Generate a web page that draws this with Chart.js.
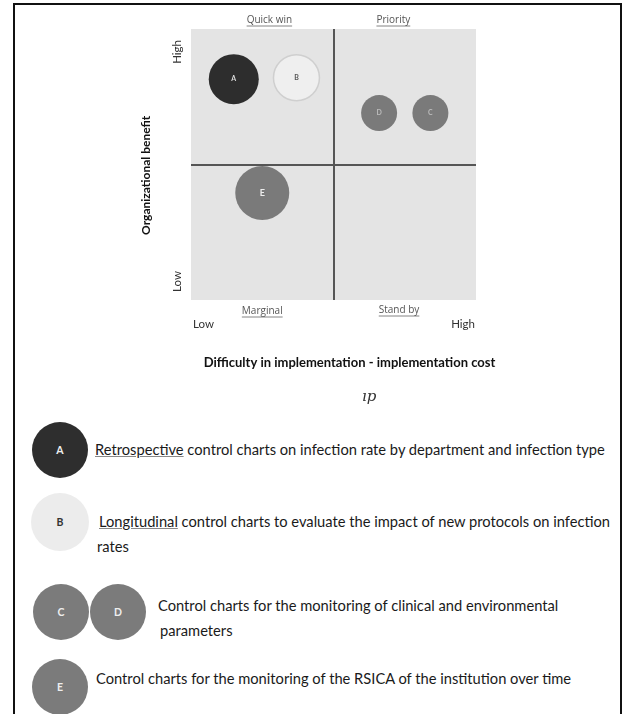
<!DOCTYPE html>
<html>
<head>
<meta charset="utf-8">
<script src="https://cdn.jsdelivr.net/npm/chart.js@4.4.1/dist/chart.umd.min.js"></script>
<style>
  html, body { margin: 0; padding: 0; background: #fff; }
  body { width: 624px; height: 714px; position: relative; overflow: hidden; font-family: Lato, 'Open Sans', sans-serif; }
  #frame { position: absolute; left: 13px; top: 3px; width: 605px; height: 760px; border: 2px solid #111; border-bottom: none; }
  #chartBox { position: absolute; left: 0; top: 0; width: 624px; height: 420px; }
  .dot { position: absolute; border-radius: 50%; display: flex; align-items: center; justify-content: center; font: bold 10.5px Lato, sans-serif; }
  .txt { position: absolute; font-size: 14.7px; color: #1a1a1a; white-space: nowrap; line-height: 16px; }
  .txt u { text-decoration-color: #888; }
  #glyph { position: absolute; left: 362px; top: 387px; font: italic 15px 'DejaVu Serif', serif; color: #333; }
</style>
</head>
<body>
<div id="frame"></div>
<div id="chartBox"><canvas id="matrix"></canvas></div>
<div id="glyph">ıp</div>

<div class="dot" style="left:32px;top:422px;width:56px;height:56px;background:#2e2e2e;color:#eee;">A</div>
<div class="txt" style="left:95px;top:441px;"><u>Retrospective</u> control charts on infection rate by department and infection type</div>

<div class="dot" style="left:31px;top:493px;width:58px;height:58px;background:#ececec;color:#333;">B</div>
<div class="txt" style="left:99px;top:513px;"><u>Longitudinal</u> control charts to evaluate the impact of new protocols on infection</div>
<div class="txt" style="left:97px;top:538px;">rates</div>

<div class="dot" style="left:33px;top:584px;width:56px;height:56px;background:#7b7b7b;color:#eee;">C</div>
<div class="dot" style="left:90px;top:584px;width:56px;height:56px;background:#7b7b7b;color:#eee;">D</div>
<div class="txt" style="left:158px;top:597px;">Control charts for the monitoring of clinical and environmental</div>
<div class="txt" style="left:160px;top:622px;">parameters</div>

<div class="dot" style="left:32px;top:659px;width:56px;height:56px;background:#7b7b7b;color:#eee;">E</div>
<div class="txt" style="left:96px;top:670px;">Control charts for the monitoring of the RSICA of the institution over time</div>

<script>
// bubble data: difficulty (x), benefit (y), bubble radius
const bubbleNames = ['A', 'B', 'C', 'D', 'E'];
const difficulty = [1.5, 3.7, 8.4, 6.6, 2.5];
const benefit = [8.15, 8.2, 6.9, 6.9, 3.95];
const bubbleRadius = [25, 23, 18, 18, 27];

const quadrantNames = ['Quick win', 'Priority', 'Marginal', 'Stand by'];
const axisEnds = ['Low', 'High'];
const xTitle = 'Difficulty in implementation - implementation cost';
const yTitle = 'Organizational benefit';

const fillColors = ['#2d2d2d', '#efefef', '#7a7a7a', '#7a7a7a', '#7a7a7a'];
const letterColors = ['#ddd', '#555', '#bbb', '#bbb', '#eee'];

// Middle lines only (value 5)
function midLine(ctx) {
    return ctx.tick && ctx.tick.value === 5 ? '#555' : 'rgba(0,0,0,0)';
}

function underlined(ctx, text, x, y) {
    ctx.fillText(text, x, y);
    const w = ctx.measureText(text).width;
    ctx.beginPath();
    ctx.moveTo(x - w / 2, y + 6);
    ctx.lineTo(x + w / 2, y + 6);
    ctx.lineWidth = 0.8;
    ctx.strokeStyle = '#666';
    ctx.stroke();
}

const matrixPlugin = {
    id: 'matrixDecor',
    beforeDraw(chart) {
        const { ctx, chartArea: a } = chart;
        ctx.save();
        ctx.fillStyle = '#e4e4e4';
        ctx.fillRect(a.left, a.top, a.right - a.left, a.bottom - a.top);
        ctx.restore();
    },
    afterDatasetsDraw(chart) {
        const { ctx, chartArea: a } = chart;
        const xs = chart.scales.x, ys = chart.scales.y;
        ctx.save();

        // letters inside bubbles
        const meta = chart.getDatasetMeta(0);
        meta.data.forEach((pt, i) => {
            ctx.font = (i === 4 ? 'bold 9px' : 'bold 7px') + ' Lato, sans-serif';
            ctx.fillStyle = letterColors[i];
            ctx.textAlign = 'center';
            ctx.textBaseline = 'middle';
            ctx.fillText(bubbleNames[i], pt.x, pt.y);
        });

        // quadrant names
        ctx.font = '10px "Open Sans", sans-serif';
        ctx.fillStyle = '#555';
        ctx.textAlign = 'center';
        ctx.textBaseline = 'middle';
        underlined(ctx, quadrantNames[0], xs.getPixelForValue(2.75), a.top - 9);
        underlined(ctx, quadrantNames[1], xs.getPixelForValue(7.1), a.top - 9);
        underlined(ctx, quadrantNames[2], xs.getPixelForValue(2.5), a.bottom + 11);
        underlined(ctx, quadrantNames[3], xs.getPixelForValue(7.3), a.bottom + 10);

        // axis ends
        ctx.font = '11.5px Lato, sans-serif';
        ctx.fillStyle = '#333';
        ctx.textAlign = 'left';
        ctx.fillText(axisEnds[0], a.left + 2, a.bottom + 24);
        ctx.textAlign = 'right';
        ctx.fillText(axisEnds[1], a.right - 1, a.bottom + 24);

        ctx.save();
        ctx.translate(a.left - 14, a.top);
        ctx.rotate(-Math.PI / 2);
        ctx.textAlign = 'right';
        ctx.fillText(axisEnds[1], -11, 0);
        ctx.textAlign = 'left';
        ctx.fillText(axisEnds[0], -(a.bottom - a.top) + 8, 0);
        ctx.restore();

        // axis titles
        ctx.font = 'bold 13px Lato, sans-serif';
        ctx.fillStyle = '#111';
        ctx.textAlign = 'center';
        ctx.fillText(xTitle, (a.left + a.right) / 2 + 16, a.bottom + 63);

        ctx.font = 'bold 12px Lato, sans-serif';
        ctx.save();
        ctx.translate(a.left - 45, ys.getPixelForValue(4.6));
        ctx.rotate(-Math.PI / 2);
        ctx.fillText(yTitle, 0, 0);
        ctx.restore();

        ctx.restore();
    }
};

new Chart(document.getElementById('matrix'), {
    type: 'bubble',
    data: {
        datasets: [{
            label: 'Control charts',
            data: difficulty.map((d, i) => ({ x: d, y: benefit[i], r: bubbleRadius[i] })),
            backgroundColor: fillColors,
            borderColor: ['#2d2d2d', '#cfcfcf', '#7a7a7a', '#7a7a7a', '#7a7a7a'],
            borderWidth: [0, 1.5, 0, 0, 0],
            hoverRadius: 0
        }]
    },
    options: {
        responsive: true,
        maintainAspectRatio: false,
        animation: false,
        events: [],
        layout: { padding: { left: 191, top: 29, right: 148, bottom: 120 } },
        scales: {
            x: {
                min: 0, max: 10,
                ticks: { display: false, stepSize: 5 },
                grid: { color: midLine, lineWidth: 2, drawTicks: false },
                border: { display: false }
            },
            y: {
                min: 0, max: 10,
                ticks: { display: false, stepSize: 5 },
                grid: { color: midLine, lineWidth: 2, drawTicks: false },
                border: { display: false }
            }
        },
        plugins: {
            legend: { display: false },
            tooltip: { enabled: false }
        }
    },
    plugins: [matrixPlugin]
});
</script>
</body>
</html>
